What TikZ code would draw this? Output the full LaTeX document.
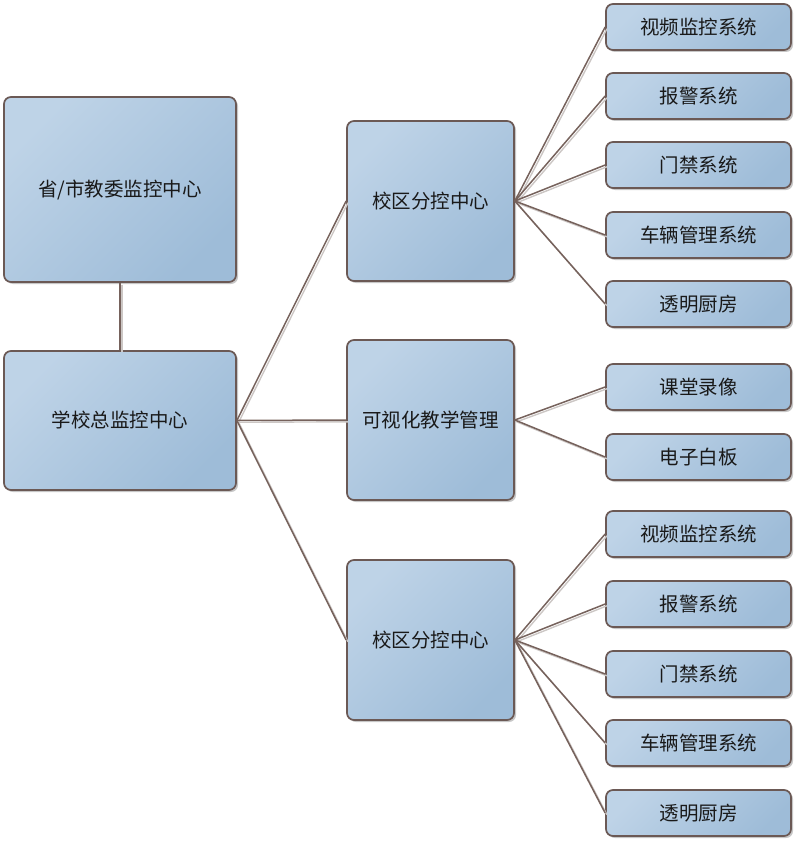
\documentclass[tikz,border=0pt]{standalone}
\usepackage{fontspec}
\newfontfamily\cjk{Noto Sans CJK SC}
\usetikzlibrary{shadows}
\definecolor{boxlight}{HTML}{BED3E7}
\definecolor{boxdark}{HTML}{9EBCD8}
\definecolor{boxborder}{HTML}{6B5955}
\definecolor{linkcol}{HTML}{76625C}
\definecolor{linkshadow}{HTML}{CCC7C5}
\begin{document}
\begin{tikzpicture}[x=1pt,y=-1pt,
  box/.style={draw=boxborder, line width=1.7pt, rounded corners=7pt,
    top color=boxlight, bottom color=boxdark, shading angle=45,
    drop shadow={shadow xshift=2pt, shadow yshift=-2pt, opacity=0.22, fill=black},
    font=\cjk\fontsize{19.5}{22}\selectfont, text=black!90, inner sep=0pt, align=center},
  bigbox/.style={box, minimum width=232pt},
  midbox/.style={box, minimum width=167pt, minimum height=160pt},
  leafbox/.style={box, minimum width=185pt, minimum height=46pt},
  link/.style={draw=linkcol, line width=1.5pt},
  linkshade/.style={draw=linkshadow, line width=1.4pt},
]
\useasboundingbox (0,0) rectangle (800,845);

% nodes
\node[bigbox, minimum height=185pt] (A) at (120,189.5) {省/市教委监控中心};
\node[bigbox, minimum height=139pt] (B) at (120,420.5) {学校总监控中心};
\node[midbox] (C1) at (430.5,201) {校区分控中心};
\node[midbox] (C2) at (430.5,420) {可视化教学管理};
\node[midbox] (C3) at (430.5,640) {校区分控中心};

\node[leafbox] (L1) at (698.5,27) {视频监控系统};
\node[leafbox] (L2) at (698.5,96) {报警系统};
\node[leafbox] (L3) at (698.5,165) {门禁系统};
\node[leafbox] (L4) at (698.5,235) {车辆管理系统};
\node[leafbox] (L5) at (698.5,304) {透明厨房};
\node[leafbox] (L6) at (698.5,387) {课堂录像};
\node[leafbox] (L7) at (698.5,457) {电子白板};
\node[leafbox] (L8) at (698.5,534) {视频监控系统};
\node[leafbox] (L9) at (698.5,604) {报警系统};
\node[leafbox] (L10) at (698.5,674) {门禁系统};
\node[leafbox] (L11) at (698.5,743) {车辆管理系统};
\node[leafbox] (L12) at (698.5,813) {透明厨房};

% connectors (shadow first, then line)
\begin{scope}[transform canvas={shift={(1.8pt,-1.8pt)}}]
  \draw[linkshade] (A.south) -- (B.north);
  \foreach \c in {C1,C2,C3} \draw[linkshade] (B.east) -- (\c.west);
  \foreach \l in {L1,L2,L3,L4,L5} \draw[linkshade] (C1.east) -- (\l.west);
  \foreach \l in {L6,L7} \draw[linkshade] (C2.east) -- (\l.west);
  \foreach \l in {L8,L9,L10,L11,L12} \draw[linkshade] (C3.east) -- (\l.west);
\end{scope}
\draw[link] (A.south) -- (B.north);
\foreach \c in {C1,C2,C3} \draw[link] (B.east) -- (\c.west);
\foreach \l in {L1,L2,L3,L4,L5} \draw[link] (C1.east) -- (\l.west);
\foreach \l in {L6,L7} \draw[link] (C2.east) -- (\l.west);
\foreach \l in {L8,L9,L10,L11,L12} \draw[link] (C3.east) -- (\l.west);
\end{tikzpicture}
\end{document}
